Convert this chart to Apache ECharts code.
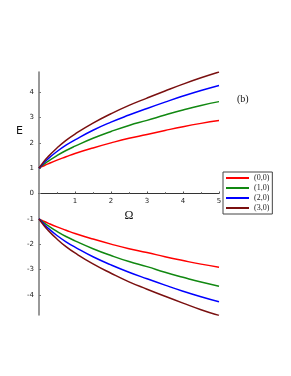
<!DOCTYPE html>
<html><head><meta charset="utf-8">
<script src="https://cdn.jsdelivr.net/npm/echarts@6/dist/echarts.min.js"></script>
<style>html,body{margin:0;padding:0;background:#fff}#c{width:291px;height:376px}</style>
</head><body><div id="c"></div>
<script>
const omega = [0, 0.1, 0.25, 0.5, 0.75, 1, 1.5, 2, 2.5, 3, 3.5, 4, 4.5, 5];
const seriesNames = ['(0,0)', '(1,0)', '(2,0)', '(3,0)'];
const posRed   = [1, 1.07, 1.17, 1.32, 1.45, 1.58, 1.80, 2.00, 2.18, 2.33, 2.49, 2.64, 2.77, 2.88];
const posGreen = [1, 1.12, 1.27, 1.50, 1.70, 1.87, 2.18, 2.45, 2.69, 2.89, 3.10, 3.30, 3.48, 3.63];
const posBlue  = [1, 1.16, 1.37, 1.66, 1.91, 2.12, 2.50, 2.82, 3.10, 3.36, 3.61, 3.85, 4.07, 4.27];
const posBrown = [1, 1.20, 1.45, 1.80, 2.10, 2.35, 2.78, 3.15, 3.48, 3.77, 4.05, 4.32, 4.57, 4.80];
const negRed   = [-1, -1.07, -1.17, -1.32, -1.45, -1.58, -1.80, -2.00, -2.18, -2.33, -2.50, -2.65, -2.79, -2.91];
const negGreen = [-1, -1.12, -1.27, -1.50, -1.70, -1.87, -2.18, -2.45, -2.69, -2.89, -3.11, -3.31, -3.50, -3.66];
const negBlue  = [-1, -1.16, -1.37, -1.66, -1.91, -2.12, -2.50, -2.82, -3.11, -3.37, -3.62, -3.86, -4.08, -4.28];
const negBrown = [-1, -1.20, -1.45, -1.80, -2.10, -2.35, -2.78, -3.15, -3.49, -3.78, -4.06, -4.33, -4.59, -4.82];
const xTicks = [1, 2, 3, 4, 5];
const yTicks = [-4, -3, -2, -1, 0, 1, 2, 3, 4];
const colors = ['#ff0000', '#118811', '#0000ff', '#7a1010'];

const pos = [posRed, posGreen, posBlue, posBrown];
const neg = [negRed, negGreen, negBlue, negBrown];
function pairs(arr){ return omega.map((o,i)=>[o, arr[i]]); }
const series = [];
for (let k = 0; k < 4; k++) {
  [pos[k], neg[k]].forEach(arr => series.push({
    name: seriesNames[k], type: 'line', data: pairs(arr), smooth: true,
    showSymbol: false, lineStyle: {color: colors[k], width: 1.5}, itemStyle: {color: colors[k]}
  }));
}
const chart = echarts.init(document.getElementById('c'));
chart.setOption({
  animation: false,
  grid: {left: 39, right: 72, top: 72, bottom: 61},
  xAxis: {
    type: 'value', min: 0, max: 5, offset: -121.5,
    axisLine: {onZero: false, lineStyle: {color: '#333', width: 1}},
    axisTick: {show: true, inside: true, length: 2, lineStyle: {color: '#555'}, customValues: xTicks},
    minorTick: {show: true, splitNumber: 2, length: 1.5, lineStyle: {color: '#777'}},
    splitLine: {show: false},
    axisLabel: {customValues: xTicks, fontSize: 7, color: '#222', fontFamily: 'DejaVu Sans', margin: 4},
    name: 'Ω', nameLocation: 'middle', nameGap: 15,
    nameTextStyle: {fontFamily: 'Liberation Serif', fontSize: 12, color: '#111'}
  },
  yAxis: {
    type: 'value', min: -4.8, max: 4.8,
    axisLine: {show: true, lineStyle: {color: '#777', width: 1.5}},
    axisTick: {show: true, inside: true, length: 2, lineStyle: {color: '#777'}, customValues: yTicks},
    splitLine: {show: false},
    axisLabel: {customValues: yTicks, fontSize: 7, color: '#222', fontFamily: 'DejaVu Sans', margin: 5}
  },
  legend: {
    orient: 'vertical', left: 223, top: 172, data: seriesNames,
    icon: 'rect', itemWidth: 23, itemHeight: 2, itemGap: 2, itemTextGap: 3,
    padding: [2, 3, 2, 3], borderColor: '#444', borderWidth: 1,
    textStyle: {fontFamily: 'Liberation Serif', fontSize: 8, color: '#222'}
  },
  graphic: [
    {type: 'text', left: 16, top: 126, style: {text: 'E', font: '11px "DejaVu Sans"', fill: '#111'}},
    {type: 'text', left: 237, top: 94, style: {text: '(b)', font: '10px "Liberation Serif"', fill: '#111'}}
  ],
  series: series
});
</script></body></html>
